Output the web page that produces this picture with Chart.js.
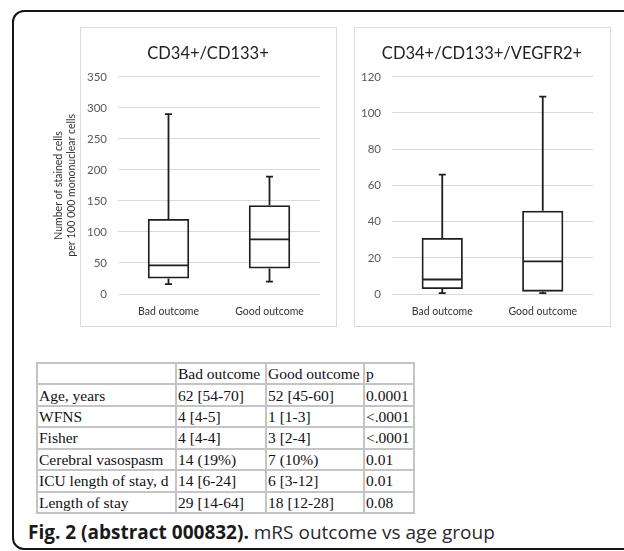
<!DOCTYPE html>
<html>
<head>
<meta charset="utf-8">
<script src="https://cdn.jsdelivr.net/npm/chart.js@4.4.1/dist/chart.umd.min.js"></script>
<style>
  html, body { margin: 0; padding: 0; background: #fff; }
  body { width: 624px; height: 551px; position: relative; overflow: hidden; }
  #frame { position: absolute; left: 12px; top: 10px; width: 640px; height: 536px;
    border: 2px solid #151515; border-radius: 12px; }
  .panel { position: absolute; top: 27px; width: 255px; height: 298px; border: 1px solid #dcdcdc; }
  canvas { position: absolute; }
  #tbl { position: absolute; left: 36px; top: 362px; width: 377px; height: 152px;
    border-collapse: separate; border-spacing: 0; border: 1px solid #c4c4c4;
    font-family: "Liberation Serif", "Times New Roman", serif; font-size: 15.5px; color: #111; table-layout: fixed; }
  #tbl td { border: 1px solid #c4c4c4; padding: 0 1px; line-height: 17px; white-space: nowrap; overflow: hidden; }
  #caption { position: absolute; left: 28px; top: 521px; font-family: "Open Sans", sans-serif;
    font-size: 19px; color: #2a2a2a; white-space: nowrap; line-height: 22px; }
  #caption b { font-weight: 700; color: #1a1a1a; }
</style>
</head>
<body>
<div id="frame"></div>
<div class="panel" style="left:80px"></div>
<div class="panel" style="left:354px"></div>
<canvas id="left" width="336" height="299" style="left:40px; top:27px"></canvas>
<canvas id="right" width="256" height="299" style="left:354px; top:27px"></canvas>
<table id="tbl"></table>
<div id="caption"><b>Fig. 2 (abstract 000832).</b> mRS outcome vs age group</div>

<script>
// box plot values
var categories = ['Bad outcome', 'Good outcome'];

var cd133Min = [16, 20];
var cd133Q1 = [25, 41];
var cd133Median = [46, 88];
var cd133Q3 = [121, 143];
var cd133Max = [290, 189];

var vegfMin = [0.5, 0.5];
var vegfQ1 = [2.7, 1.3];
var vegfMedian = [8, 18];
var vegfQ3 = [31, 46];
var vegfMax = [66, 109];

// table under the charts
var tableHeader = ['', 'Bad outcome', 'Good outcome', 'p'];
var rowLabels = ['Age, years', 'WFNS', 'Fisher', 'Cerebral vasospasm', 'ICU length of stay, d', 'Length of stay'];
var badCol = ['62 [54-70]', '4 [4-5]', '4 [4-4]', '14 (19%)', '14 [6-24]', '29 [14-64]'];
var goodCol = ['52 [45-60]', '1 [1-3]', '3 [2-4]', '7 (10%)', '6 [3-12]', '18 [12-28]'];
var pCol = ['0.0001', '<.0001', '<.0001', '0.01', '0.01', '0.08'];

var colWidths = [139, 90, 98, 50];
var html = '<colgroup>' + colWidths.map(function (w) { return '<col style="width:' + w + 'px">'; }).join('') + '</colgroup>';
html += '<tr>' + tableHeader.map(function (h) { return '<td>' + h + '</td>'; }).join('') + '</tr>';
rowLabels.forEach(function (lab, i) {
    var cells = [lab, badCol[i], goodCol[i], pCol[i]];
    html += '<tr>' + cells.map(function (c) { return '<td>' + c.replace('<', '&lt;') + '</td>'; }).join('') + '</tr>';
});
document.getElementById('tbl').innerHTML = html;

// whiskers + median drawn on top of the floating bars
var boxPlugin = {
    id: 'boxWhiskers',
    afterDatasetsDraw: function (chart) {
        var o = chart.options.plugins.boxWhiskers;
        var ctx = chart.ctx;
        var y = chart.scales.y;
        var meta = chart.getDatasetMeta(0);
        ctx.save();
        ctx.strokeStyle = '#1f1f1f';
        ctx.lineWidth = 1.8;
        meta.data.forEach(function (bar, i) {
            var half = bar.width / 2;
            var yq1 = y.getPixelForValue(o.q1[i]), yq3 = y.getPixelForValue(o.q3[i]);
            var ymin = y.getPixelForValue(o.min[i]), ymax = y.getPixelForValue(o.max[i]);
            var ymed = y.getPixelForValue(o.median[i]);
            ctx.beginPath();
            ctx.moveTo(bar.x, yq3); ctx.lineTo(bar.x, ymax);
            ctx.moveTo(bar.x - 3.5, ymax); ctx.lineTo(bar.x + 3.5, ymax);
            ctx.moveTo(bar.x, yq1); ctx.lineTo(bar.x, ymin);
            ctx.moveTo(bar.x - 3.5, ymin); ctx.lineTo(bar.x + 3.5, ymin);
            ctx.moveTo(bar.x - half + 1, ymed); ctx.lineTo(bar.x + half - 1, ymed);
            ctx.stroke();
        });
        ctx.restore();
    }
};

function makeBox(id, title, q1, q3, mins, medians, maxs, yMax, yStep, yWidth, rightWidth, yTitle) {
    var yScale = {
        min: 0,
        max: yMax,
        ticks: { stepSize: yStep, padding: 11, color: '#595959', font: { family: 'Lato', size: 11.5 } },
        grid: { color: '#d9d9d9', drawTicks: false },
        border: { display: false },
        afterFit: function (s) { s.width = yWidth; }
    };
    if (yTitle) {
        yScale.title = {
            display: true,
            text: yTitle,
            color: '#333',
            font: { family: 'Lato', size: 10.5, lineHeight: 1.25 },
            padding: { top: 12, bottom: 0 }
        };
    }
    return new Chart(document.getElementById(id).getContext('2d'), {
        type: 'bar',
        data: {
            labels: categories,
            datasets: [{
                data: q1.map(function (v, i) { return [v, q3[i]]; }),
                backgroundColor: 'rgba(0,0,0,0)',
                borderColor: '#1f1f1f',
                borderWidth: 1.8,
                borderSkipped: false,
                categoryPercentage: 1,
                barPercentage: 0.41
            }]
        },
        options: {
            responsive: false,
            animation: false,
            devicePixelRatio: 1,
            plugins: {
                legend: { display: false },
                tooltip: { enabled: false },
                title: {
                    display: true,
                    text: title,
                    color: '#222',
                    font: { family: 'Lato', size: 16.5, weight: 'normal' },
                    padding: { top: 17, bottom: 13 }
                },
                boxWhiskers: { q1: q1, q3: q3, min: mins, median: medians, max: maxs }
            },
            scales: {
                x: {
                    grid: { display: false },
                    border: { display: false },
                    ticks: { color: '#333', padding: 3, font: { family: 'Lato', size: 10.5 } },
                    afterFit: function (s) { s.height = 32; }
                },
                y: yScale,
                // empty axis on the right keeps the title centred over the panel
                yr: {
                    position: 'right',
                    grid: { display: false },
                    border: { display: false },
                    ticks: { display: false },
                    afterFit: function (s) { s.width = rightWidth; }
                }
            }
        },
        plugins: [boxPlugin]
    });
}

makeBox('left', 'CD34+/CD133+', cd133Q1, cd133Q3, cd133Min, cd133Median, cd133Max,
    350, 50, 78, 56, ['Number of stained cells', 'per 100 000 mononuclear cells']);
makeBox('right', 'CD34+/CD133+/VEGFR2+', vegfQ1, vegfQ3, vegfMin, vegfMedian, vegfMax,
    120, 20, 38, 17, null);
</script>
</body>
</html>
